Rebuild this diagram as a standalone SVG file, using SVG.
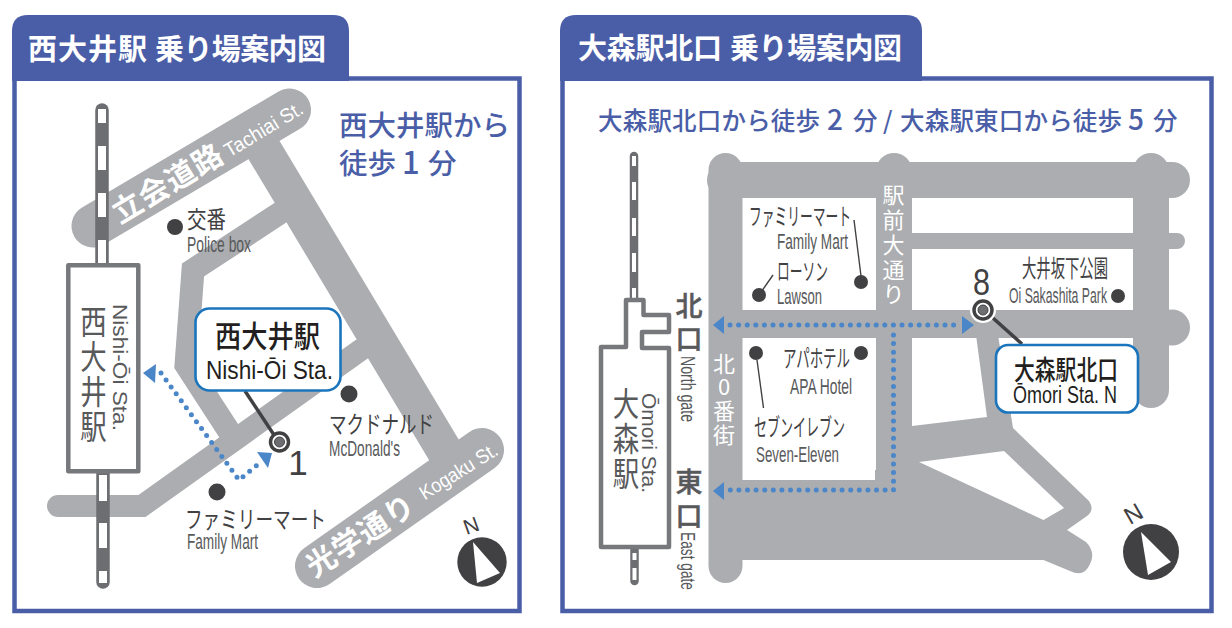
<svg xmlns="http://www.w3.org/2000/svg" width="1232" height="628" viewBox="0 0 1232 628">
<style>
text{font-family:"Noto Sans CJK JP","Noto Sans",sans-serif}
.lat{font-family:"Liberation Sans",Arial,sans-serif}
.frame{fill:#fff;stroke:#4a5ea8;stroke-width:4.5}
.tab{fill:#4a5ea8}
.title{fill:#fff;font-size:29px;font-weight:700}
.blue{fill:#4a5ea8;font-weight:500}
.road{fill:none;stroke:#abadb0;stroke-linecap:round;stroke-linejoin:miter}
.butt{stroke-linecap:butt}
.fillroad{fill:#abadb0}
.rail{fill:none;stroke:#6d6e71;stroke-linecap:round}
.railw{fill:none;stroke:#fff;stroke-linecap:butt}
.st{fill:#fff;stroke:#77787b;stroke-width:4.5;stroke-linejoin:round}
.stn{fill:#58595b;font-size:33px;text-anchor:middle}
.gr{fill:#58595b}
.jp{fill:#414042;font-size:24px}
.en{fill:#58595b;font-size:22px}
.wh{fill:#fff;font-weight:700}
.whr{fill:#fff;font-size:22px;text-anchor:middle}
.dot{fill:#414042}
.lead{fill:none;stroke:#414042;stroke-width:3.5}
.thin{fill:none;stroke:#414042;stroke-width:1.4}
.call{fill:#fff;stroke:#1b75bc;stroke-width:2.6}
.route{fill:none;stroke:#4a86c8;stroke-width:5;stroke-linecap:round;stroke-dasharray:0 8.6}
.arrow{fill:#4a86c8}
.bk{fill:#231f20}
.gate{fill:#58595b;stroke:#58595b;stroke-width:.5;font-size:27px;font-weight:500;text-anchor:middle}
</style>

<g id="panel-left">
<rect class="frame" x="14.5" y="78.5" width="505" height="532.5"/>
<path class="tab" d="M12 81V31Q12 15 28 15H333Q349 15 349 31V81Z"/>
<text class="title" y="60"><tspan x="28" textLength="119">西大井駅</tspan><tspan x="155" textLength="171">乗り場案内図</tspan></text>
<text class="blue" font-size="28.5" y="136" x="339">西大井駅から</text>
<text class="blue" font-size="28.5" y="174"><tspan x="339">徒歩</tspan><tspan x="402" font-size="31">1</tspan><tspan x="428">分</tspan></text>
</g>

<g id="left-roads">
<path class="road" stroke-width="43" d="M93 226L289.500 110"/>
<path class="road butt" stroke-width="36" d="M252 130L456 470"/>
<path class="road" stroke-width="44" d="M317 566L482 450"/>
<path class="road butt" stroke-width="23" d="M283 211L193 270L186 365L236 442"/>
<path class="road" stroke-width="22" d="M58 506H142L362 349"/>
<text class="wh" font-size="30" text-anchor="middle" transform="translate(168 184) rotate(-31)" y="10" letter-spacing="1">立会道路</text>
<text class="lat" fill="#fff" font-size="20" text-anchor="middle" transform="translate(264 130) rotate(-31)" y="6" textLength="88" lengthAdjust="spacingAndGlyphs">Tachiai St.</text>
<text class="wh" font-size="30" text-anchor="middle" transform="translate(361 536) rotate(-33)" y="10" letter-spacing="1">光学通り</text>
<text class="lat" fill="#fff" font-size="20" text-anchor="middle" transform="translate(459 472) rotate(-32)" y="6" textLength="88" lengthAdjust="spacingAndGlyphs">Kogaku St.</text>
</g>

<g id="left-rail">
<path class="rail" stroke-width="13.500" d="M102 110V265"/>
<path class="railw" stroke-width="8" d="M102 109V123M102 146V170M102 193V217M102 240V264"/>
<path class="rail" stroke-width="13.500" d="M103 473V582"/>
<path class="railw" stroke-width="8" d="M103 475V501M103 523V548M103 571V583"/>
</g>

<g id="station-nishioi">
<rect class="st" x="68.300" y="265.300" width="70" height="206"/>
<text class="stn" transform="translate(93.500 0) scale(.8 1)"><tspan x="0" y="334">西</tspan><tspan x="0" y="369">大</tspan><tspan x="0" y="404">井</tspan><tspan x="0" y="439">駅</tspan></text>
<text class="lat gr" font-size="20" transform="translate(113 304) rotate(90)" textLength="127" lengthAdjust="spacingAndGlyphs">Nishi-Ōi Sta.</text>
</g>

<g id="poi-koban">
<circle class="dot" cx="175" cy="227" r="8"/>
<text class="jp" x="187" y="228" textLength="39" lengthAdjust="spacingAndGlyphs">交番</text>
<text class="lat en" x="187" y="252" textLength="64" lengthAdjust="spacingAndGlyphs">Police box</text>
</g>
<g id="poi-mcdonalds">
<circle class="dot" cx="349" cy="394" r="8.500"/>
<text class="jp" x="329" y="433" textLength="105" lengthAdjust="spacingAndGlyphs">マクドナルド</text>
<text class="lat en" x="329" y="456" textLength="71" lengthAdjust="spacingAndGlyphs">McDonald's</text>
</g>
<g id="poi-familymart-left">
<circle class="dot" cx="217" cy="492" r="8.500"/>
<text class="jp" x="185" y="528" textLength="141" lengthAdjust="spacingAndGlyphs">ファミリーマート</text>
<text class="lat en" x="187" y="549" textLength="71" lengthAdjust="spacingAndGlyphs">Family Mart</text>
</g>

<g id="left-connectors">
<path class="route" d="M161 373L239 480L262 461"/>
<path class="arrow" d="M143 373L156 364L155 383Z"/>
<path class="arrow" d="M257 452L272 453L268 468Z"/>
<path class="lead" d="M245 391L276 438"/>
</g>

<g id="stop-1">
<circle cx="279.500" cy="442" r="9" fill="#fff" stroke="#414042" stroke-width="3.500"/>
<circle cx="279.500" cy="442" r="5" fill="#6d6e71" stroke="#414042" stroke-width="1"/>
<text class="lat" fill="#414042" font-size="35" x="298" y="475" text-anchor="middle">1</text>
</g>

<g id="callout-nishioi">
<rect class="call" x="195.500" y="308.500" width="145" height="82" rx="14"/>
<text class="bk" font-size="30" font-weight="500" x="215" y="347" textLength="105" lengthAdjust="spacingAndGlyphs">西大井駅</text>
<text class="lat bk" font-size="25" x="206" y="379" textLength="127" lengthAdjust="spacingAndGlyphs">Nishi-Ōi Sta.</text>
</g>

<g id="compass-left">
<circle class="dot" cx="482" cy="562" r="24.700"/>
<path fill="#fff" d="M473 542L500 573L477 583Z"/>
<text class="lat" fill="#414042" font-size="21" text-anchor="middle" transform="translate(471 525) rotate(-20)" y="8">N</text>
</g>

<g id="panel-right">
<rect class="frame" x="562.500" y="78.500" width="649" height="532.500"/>
<path class="tab" d="M560 81V31Q560 15 576 15H906Q922 15 922 31V81Z"/>
<text class="title" y="59"><tspan x="578" textLength="144">大森駅北口</tspan><tspan x="730" textLength="172">乗り場案内図</tspan></text>
<text class="blue" font-size="24.500" y="130"><tspan x="598" textLength="222">大森駅北口から徒歩</tspan><tspan x="827" font-size="28">2</tspan><tspan x="853">分</tspan><tspan x="883">/</tspan><tspan x="900" textLength="222">大森駅東口から徒歩</tspan><tspan x="1128" font-size="28">5</tspan><tspan x="1153">分</tspan></text>
</g>

<g id="right-roads">
<path class="road" stroke-width="34" d="M725.500 170V566"/>
<path class="road" stroke-width="36" d="M725 180H1172"/>
<path class="road butt" stroke-width="36" d="M894 171V500"/>
<circle class="fillroad" cx="894" cy="171" r="18"/>
<path class="road" stroke-width="36" d="M1151 171V390"/>
<path class="road" stroke-width="16" d="M1133 241H1177"/>
<path class="road butt" stroke-width="16" d="M912 241H1133"/>
<path class="road butt" stroke-width="28" d="M725 324H1172"/>
<circle class="fillroad" cx="1172" cy="327.500" r="18"/>
<path class="fillroad" d="M725 480H875V470H912V426L987 417L976 335H998L1013 428L1089 501Q1095 510 1087 516L1067 530L1086 542Q1096 552 1090 564Q1084 578 1070 571L1043.500 560H725Z"/>
<path fill="#fff" d="M919 462L1004 451L1064 508L1043.500 520Z"/>
<text class="whr"><tspan x="893.500" y="203">駅</tspan><tspan x="893.500" y="228">前</tspan><tspan x="893.500" y="253">大</tspan><tspan x="893.500" y="278">通</tspan><tspan x="893.500" y="302">り</tspan></text>
<text class="whr"><tspan x="724" y="372">北</tspan><tspan x="724" y="395">0</tspan><tspan x="724" y="419">番</tspan><tspan x="724" y="443">街</tspan></text>
</g>

<g id="right-rail">
<path class="rail" stroke-width="8.500" d="M634 156V298"/>
<path class="railw" stroke-width="4" d="M634 156V166M634 182V200M634 218V236M634 253V272M634 288V298"/>
<path class="rail" stroke-width="8.500" d="M634.500 550V581"/>
<path class="railw" stroke-width="4" d="M634.500 553V560M634.500 568V580"/>
</g>

<g id="station-omori">
<path class="st" stroke-width="4" d="M626 300H643.500V315H669V332H642V348H669V547H601V347H626Z"/>
<text class="stn" font-size="33" transform="translate(626 0) scale(.8 1)"><tspan x="0" y="416">大</tspan><tspan x="0" y="451">森</tspan><tspan x="0" y="486">駅</tspan></text>
<text class="lat gr" font-size="20" transform="translate(642 393) rotate(90)" textLength="100" lengthAdjust="spacingAndGlyphs">Ōmori Sta.</text>
</g>

<g id="gate-north">
<text class="gate"><tspan x="689" y="316">北</tspan><tspan x="689" y="349">口</tspan></text>
<text class="lat gr" font-size="20" transform="translate(681 356) rotate(90)" textLength="66" lengthAdjust="spacingAndGlyphs">North gate</text>
</g>
<g id="gate-east">
<text class="gate"><tspan x="689" y="492">東</tspan><tspan x="689" y="526">口</tspan></text>
<text class="lat gr" font-size="20" transform="translate(681 532) rotate(90)" textLength="58" lengthAdjust="spacingAndGlyphs">East gate</text>
</g>

<g id="poi-familymart-right">
<text class="jp" x="749" y="225" textLength="102" lengthAdjust="spacingAndGlyphs">ファミリーマート</text>
<text class="lat en" x="777" y="249" textLength="71" lengthAdjust="spacingAndGlyphs">Family Mart</text>
<path class="thin" d="M854 220L861 276"/>
<circle class="dot" cx="861" cy="282" r="7"/>
</g>
<g id="poi-lawson">
<text class="jp" x="777" y="280" textLength="51" lengthAdjust="spacingAndGlyphs">ローソン</text>
<text class="lat en" x="777" y="304" textLength="45" lengthAdjust="spacingAndGlyphs">Lawson</text>
<path class="thin" d="M773 275L759 295"/>
<circle class="dot" cx="759" cy="295" r="7"/>
</g>
<g id="poi-park">
<text class="jp" x="1022" y="277" textLength="86" lengthAdjust="spacingAndGlyphs">大井坂下公園</text>
<text class="lat en" x="1009" y="303" textLength="98" lengthAdjust="spacingAndGlyphs">Oi Sakashita Park</text>
<circle class="dot" cx="1118" cy="296" r="7"/>
</g>
<g id="poi-apa">
<text class="jp" x="783" y="367" textLength="67" lengthAdjust="spacingAndGlyphs">アパホテル</text>
<text class="lat en" x="790" y="394" textLength="62" lengthAdjust="spacingAndGlyphs">APA Hotel</text>
<circle class="dot" cx="861" cy="353" r="7"/>
</g>
<g id="poi-seven">
<text class="jp" x="754" y="436" textLength="91" lengthAdjust="spacingAndGlyphs">セブンイレブン</text>
<text class="lat en" x="756" y="462" textLength="83" lengthAdjust="spacingAndGlyphs">Seven-Eleven</text>
<path class="thin" d="M757 360L763.500 408"/>
<circle class="dot" cx="756" cy="353" r="7"/>
</g>

<g id="right-connectors">
<path class="route" stroke-dasharray="0 10.400" d="M730 325H961"/>
<path class="route" stroke-dasharray="0 10.400" d="M893.500 335V490H730"/>
<path class="arrow" d="M713 325L724 316V334Z"/>
<path class="arrow" d="M974 325L962 316V334Z"/>
<path class="arrow" d="M713 491L724 482V500Z"/>
<path class="lead" d="M984 310L1022 344"/>
</g>

<g id="stop-8">
<circle cx="983" cy="310" r="13" fill="#fff"/>
<circle cx="983" cy="310" r="9" fill="#fff" stroke="#414042" stroke-width="3.500"/>
<circle cx="983" cy="310" r="5" fill="#6d6e71" stroke="#414042" stroke-width="1"/>
<text class="lat" fill="#414042" font-size="36" x="981.500" y="295" text-anchor="middle" textLength="17" lengthAdjust="spacingAndGlyphs">8</text>
</g>

<g id="callout-omori">
<rect class="call" x="996" y="345" width="142" height="67.500" rx="12"/>
<text class="bk" font-size="27" font-weight="500" x="1014" y="380" textLength="104" lengthAdjust="spacingAndGlyphs">大森駅北口</text>
<text class="lat bk" font-size="23" x="1013" y="403" textLength="104" lengthAdjust="spacingAndGlyphs">Ōmori Sta. N</text>
</g>

<g id="compass-right">
<circle class="dot" cx="1151" cy="552" r="28"/>
<path fill="#fff" d="M1141 532L1171 562L1148 575Z"/>
<text class="lat" fill="#414042" font-size="24" text-anchor="middle" transform="translate(1133 513) rotate(-30)" y="9">N</text>
</g>
</svg>
